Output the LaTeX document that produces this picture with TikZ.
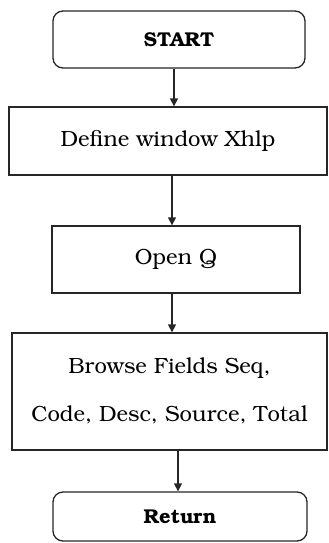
\documentclass[tikz,border=0pt]{standalone}
\usepackage[T1]{fontenc}
\usepackage{bookman}
\usetikzlibrary{arrows.meta}
\begin{document}
\begin{tikzpicture}[x=1pt,y=1pt,
  box/.style={draw=black!85, line width=1.3pt, inner sep=0pt, align=center, font=\fontsize{22}{48}\selectfont},
  term/.style={box, rounded corners=10pt, font=\fontsize{20}{22}\selectfont\bfseries},
  arr/.style={draw=black!85, line width=1.3pt, -{Triangle[width=8pt,length=8pt]}}]
\useasboundingbox (0,0) rectangle (329,-543);
\node[term, minimum width=252pt, minimum height=57pt] (start) at (179,-39.5) {START};
\node[box, minimum width=318pt, minimum height=68pt] (define) at (168,-141) {Define window Xhlp};
\node[box, minimum width=248pt, minimum height=67pt] (open) at (176,-259.5) {Open Q};
\node[box, minimum width=315pt, minimum height=117pt] (browse) at (169.5,-391.5) {Browse Fields Seq,\\Code, Desc, Source, Total};
\node[term, minimum width=254pt, minimum height=49pt] (ret) at (180,-516.5) {Return};
\coordinate (a1) at (174,0);
\coordinate (a2) at (172,0);
\coordinate (a3) at (172,0);
\coordinate (a4) at (178,0);
\draw[arr] (start.south -| a1) -- (define.north -| a1);
\draw[arr] (define.south -| a2) -- (open.north -| a2);
\draw[arr] (open.south -| a3) -- (browse.north -| a3);
\draw[arr] (browse.south -| a4) -- (ret.north -| a4);
\end{tikzpicture}
\end{document}
